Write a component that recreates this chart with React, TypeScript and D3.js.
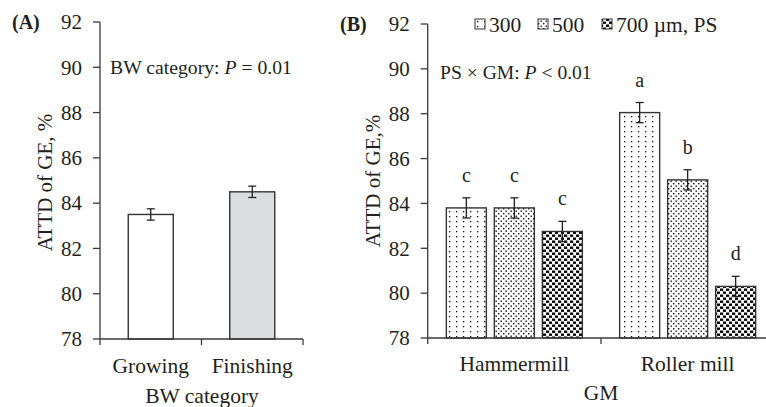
import * as d3 from "d3";

// panel A data
const bwCategories = ["Growing", "Finishing"];
const bwValues = [83.5, 84.5];
const bwErrors = [0.25, 0.25];

// panel B data
const gmGroups = ["Hammermill", "Roller mill"];
const psLevels = ["300", "500", "700 µm, PS"];
const hammermillValues = [83.8, 83.8, 82.75];
const rollerValues = [88.05, 85.05, 80.3];
const hammermillErrors = [0.45, 0.45, 0.45];
const rollerErrors = [0.45, 0.45, 0.45];
const hammermillLetters = ["c", "c", "c"];
const rollerLetters = ["a", "b", "d"];

const yTicks = [78, 80, 82, 84, 86, 88, 90, 92];

const FONT = "'Liberation Serif', 'Times New Roman', serif";
const AXIS = "#3a3a3a";
const TXT = "#231f20";
const patternIds = ["p300", "p500", "p700"];

const Patterns = () => (
  <defs>
    <pattern id="p300" width="7" height="5" patternUnits="userSpaceOnUse">
      <rect width="7" height="5" fill="#fff" />
      <rect x="1" y="1" width="1.3" height="1.3" fill="#111" />
    </pattern>
    <pattern id="p500" width="5" height="5" patternUnits="userSpaceOnUse">
      <rect width="5" height="5" fill="#fff" />
      <rect x="0.5" y="0.5" width="1.4" height="1.4" fill="#111" />
      <rect x="3" y="3" width="1.4" height="1.4" fill="#111" />
    </pattern>
    <pattern id="p700" width="6" height="6" patternUnits="userSpaceOnUse">
      <rect width="6" height="6" fill="#fff" />
      <rect x="0" y="0.5" width="3.2" height="2.4" fill="#000" />
      <rect x="3" y="3.5" width="3.2" height="2.4" fill="#000" />
    </pattern>
  </defs>
);

const YAxis = ({ x, y }: { x: number; y: d3.ScaleLinear<number, number> }) => (
  <g>
    <line x1={x} x2={x} y1={y(92)} y2={y(78)} stroke={AXIS} strokeWidth={1.3} />
    {yTicks.map((t) => (
      <g key={t}>
        <line x1={x - 7} x2={x} y1={y(t)} y2={y(t)} stroke={AXIS} strokeWidth={1.3} />
        <text x={x - 18} y={y(t)} dy="0.35em" textAnchor="end" fontSize={21} fill={TXT}>
          {t}
        </text>
      </g>
    ))}
  </g>
);

const ErrorBar = ({ cx, y, v, e }: { cx: number; y: d3.ScaleLinear<number, number>; v: number; e: number }) => (
  <g stroke="#222" strokeWidth={1.3}>
    <line x1={cx} x2={cx} y1={y(v + e)} y2={y(v - e)} />
    <line x1={cx - 4} x2={cx + 4} y1={y(v + e)} y2={y(v + e)} />
    <line x1={cx - 4} x2={cx + 4} y1={y(v - e)} y2={y(v - e)} />
  </g>
);

export default function App() {
  // panel A scales
  const yA = d3.scaleLinear().domain([78, 92]).range([339, 22]);
  const xA = d3.scaleBand().domain(bwCategories).range([100, 303]);
  const barWA = 45;

  // panel B scales
  const yB = d3.scaleLinear().domain([78, 92]).range([338, 24]);
  const xB = d3.scaleBand().domain(gmGroups).range([427.7, 774.3]);
  const xInner = d3
    .scaleBand()
    .domain(psLevels)
    .range([-72, 72])
    .paddingInner(1 / 6)
    .paddingOuter(1 / 12);

  const groupValues = [hammermillValues, rollerValues];
  const groupErrors = [hammermillErrors, rollerErrors];
  const groupLetters = [hammermillLetters, rollerLetters];

  const legendX = [475, 538, 602];

  return (
    <svg
      width={766}
      height={407}
      style={{ position: "absolute", left: 0, top: 0, background: "#fff" }}
      fontFamily={FONT}
    >
      <Patterns />
      <rect width={766} height={407} fill="#fff" />

      {/* ---------- panel A ---------- */}
      <text x={12} y={22} dy="0.35em" fontSize={20} fontWeight="bold" fill={TXT}>
        (A)
      </text>
      <text x={110} y={67} dy="0.35em" fontSize={19.7} fill={TXT}>
        BW category: <tspan fontStyle="italic">P</tspan> = 0.01
      </text>
      {bwCategories.map((c, i) => {
        const cx = xA(c)! + xA.bandwidth() / 2;
        return (
          <g key={c}>
            <rect
              x={cx - barWA / 2}
              y={yA(bwValues[i])}
              width={barWA}
              height={yA(78) - yA(bwValues[i])}
              fill={i === 0 ? "#fff" : "#dcdddf"}
              stroke="#333"
              strokeWidth={1.4}
            />
            <ErrorBar cx={cx} y={yA} v={bwValues[i]} e={bwErrors[i]} />
            <text x={cx} y={365} dy="0.35em" textAnchor="middle" fontSize={21.5} fill={TXT}>
              {c}
            </text>
          </g>
        );
      })}
      <YAxis x={100} y={yA} />
      <line x1={100} x2={303} y1={yA(78)} y2={yA(78)} stroke={AXIS} strokeWidth={1.3} />
      {[100, xA("Finishing")!, 303].map((t) => (
        <line key={t} x1={t} x2={t} y1={yA(78)} y2={yA(78) + 6} stroke={AXIS} strokeWidth={1.3} />
      ))}
      <text x={202} y={395} dy="0.35em" textAnchor="middle" fontSize={21.5} fill={TXT}>
        BW category
      </text>
      <text
        transform={`translate(45,${(yA(92) + yA(78)) / 2 + 2}) rotate(-90)`}
        dy="0.35em"
        textAnchor="middle"
        fontSize={21}
        fill={TXT}
      >
        ATTD of GE, %
      </text>

      {/* ---------- panel B ---------- */}
      <text x={340} y={24} dy="0.35em" fontSize={20} fontWeight="bold" fill={TXT}>
        (B)
      </text>
      <text x={440} y={72} dy="0.35em" fontSize={19.6} fill={TXT}>
        PS × GM: <tspan fontStyle="italic">P</tspan> &lt; 0.01
      </text>
      {psLevels.map((p, i) => (
        <g key={p}>
          <rect
            x={legendX[i]}
            y={19}
            width={10}
            height={10}
            fill={`url(#${patternIds[i]})`}
            stroke="#333"
            strokeWidth={1}
          />
          <text x={legendX[i] + 14} y={24} dy="0.35em" fontSize={21.5} fill={TXT}>
            {p}
          </text>
        </g>
      ))}
      {gmGroups.map((g, gi) => {
        const gc = xB(g)! + xB.bandwidth() / 2;
        return (
          <g key={g}>
            {psLevels.map((p, i) => {
              const v = groupValues[gi][i];
              const e = groupErrors[gi][i];
              const x0 = gc + xInner(p)!;
              const cx = x0 + xInner.bandwidth() / 2;
              return (
                <g key={p}>
                  <rect
                    x={x0}
                    y={yB(v)}
                    width={xInner.bandwidth()}
                    height={yB(78) - yB(v)}
                    fill={`url(#${patternIds[i]})`}
                    stroke="#333"
                    strokeWidth={1.4}
                  />
                  <ErrorBar cx={cx} y={yB} v={v} e={e} />
                  <text x={cx} y={yB(v + e) - 16} textAnchor="middle" fontSize={20} fill={TXT}>
                    {groupLetters[gi][i]}
                  </text>
                </g>
              );
            })}
            <text x={gc} y={363} dy="0.35em" textAnchor="middle" fontSize={21.5} fill={TXT}>
              {g}
            </text>
          </g>
        );
      })}
      <YAxis x={427.7} y={yB} />
      <line x1={427.7} x2={774.3} y1={yB(78)} y2={yB(78)} stroke={AXIS} strokeWidth={1.3} />
      {[427.7, xB("Roller mill")!].map((t) => (
        <line key={t} x1={t} x2={t} y1={yB(78)} y2={yB(78) + 6} stroke={AXIS} strokeWidth={1.3} />
      ))}
      <text x={601} y={392} dy="0.35em" textAnchor="middle" fontSize={21.5} fill={TXT}>
        GM
      </text>
      <text
        transform={`translate(373,${(yB(92) + yB(78)) / 2}) rotate(-90)`}
        dy="0.35em"
        textAnchor="middle"
        fontSize={21}
        fill={TXT}
      >
        ATTD of GE,%
      </text>
    </svg>
  );
}
